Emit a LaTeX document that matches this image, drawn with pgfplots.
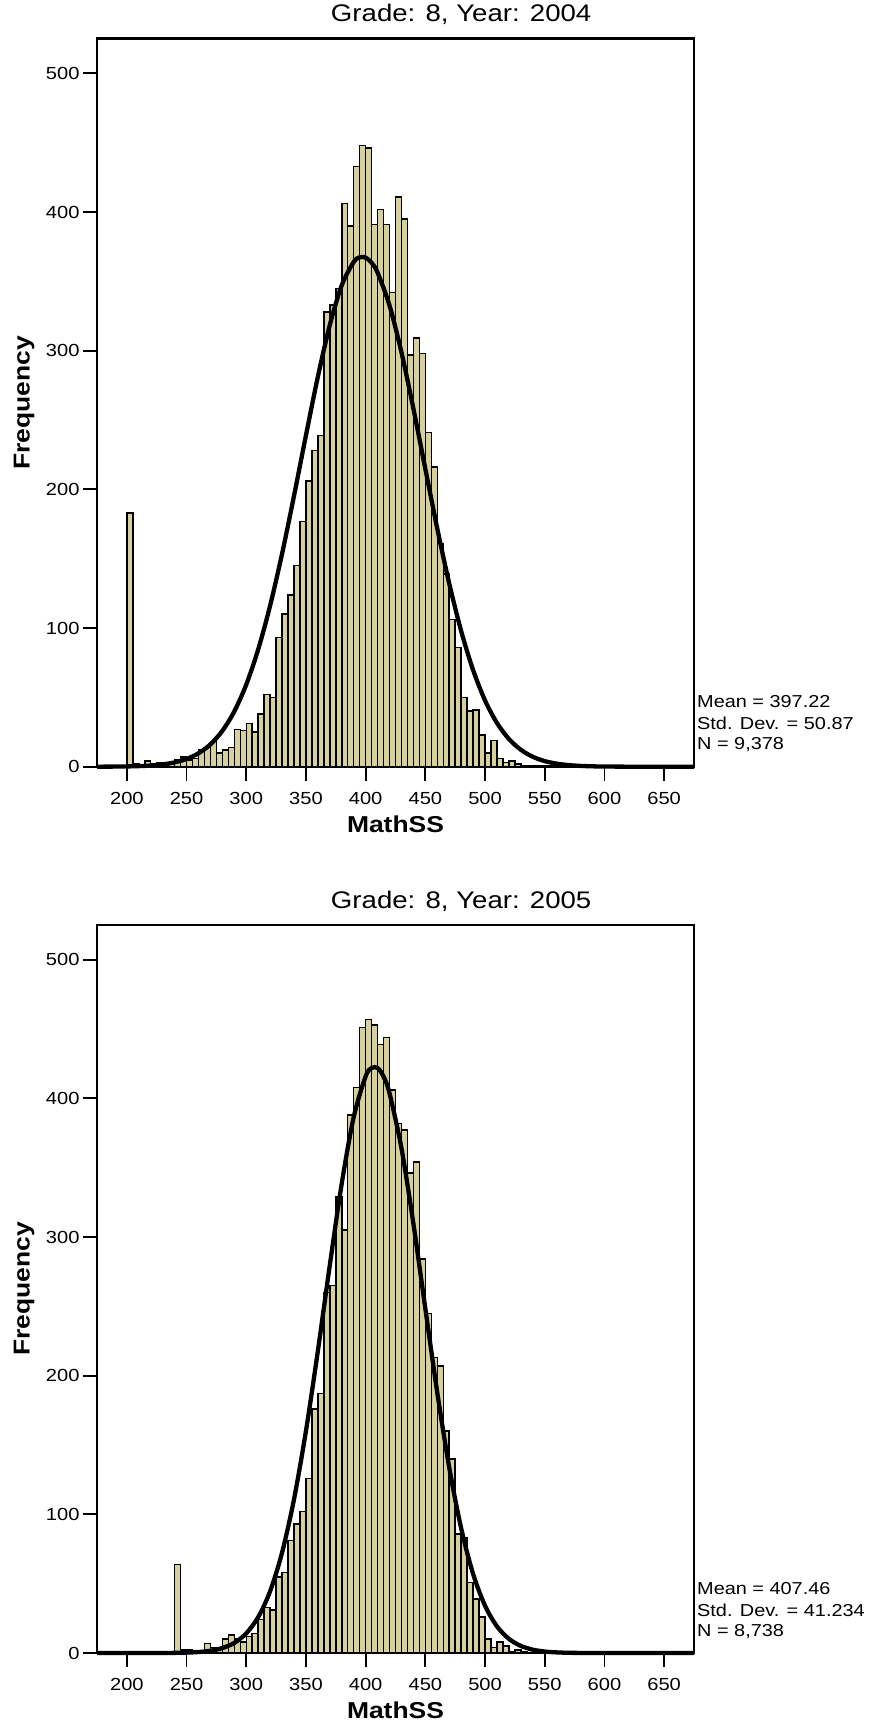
\documentclass[border=0pt]{standalone}
\usepackage{fontspec}
\setmainfont{Liberation Sans}[FakeStretch=1.15]
\usepackage{pgfplots}
\pgfplotsset{compat=1.18}
\definecolor{barfill}{RGB}{214,209,156}

\pgfplotsset{histo/.style={
  scale only axis, width=597pt, height=728pt,
  xmin=175, xmax=675, ymin=0, ymax=525,
  xtick={200,250,...,650}, ytick={0,100,...,500},
  tick align=outside, xtick pos=bottom, ytick pos=left,
  major tick length=14pt,
  tick style={black, line width=1.8pt},
  axis line style={line width=2.5pt},
  /pgf/number format/assume math mode=true,
  ticklabel style={font=\fontsize{17.5}{19}\selectfont},
  xticklabel style={yshift=-8pt},
  xlabel={MathSS}, ylabel={Frequency},
  label style={font=\fontsize{23}{26}\selectfont\bfseries},
  xlabel style={at={(axis description cs:0.5,-0.079)}, anchor=center},
  ylabel style={at={(axis description cs:-0.122,0.5)}, anchor=center},
  title style={at={(axis description cs:0.61,1.0247)}, anchor=center, yshift=0pt, font=\fontsize{24}{26}\selectfont},
  clip=false,
}}
\tikzset{stat/.style={anchor=west, font=\fontsize{17.3}{19}\selectfont, inner sep=0pt}}

\begin{document}
\begin{tikzpicture}
\path (0,0) rectangle (870pt,-1728pt);

% ---------- Panel 1 ----------
\begin{axis}[histo, at={(97pt,-766.7pt)}, anchor=south west, title={Grade: 8, Year: 2004}]
\addplot[ybar interval, fill=barfill, draw=black, line width=1.5pt] coordinates {
(200,183) (205,2) (210,1) (215,4) (220,2) (225,3) (230,3) (235,3) (240,5) (245,7)
(250,5) (255,6) (260,12) (265,14) (270,18) (275,10) (280,12) (285,14) (290,27) (295,26)
(300,31) (305,25) (310,38) (315,52) (320,50) (325,93) (330,110) (335,124) (340,145) (345,177)
(350,206) (355,228) (360,239) (365,328) (370,333) (375,345) (380,406) (385,390) (390,433) (395,448)
(400,446) (405,391) (410,402) (415,391) (420,342) (425,411) (430,395) (435,297) (440,309) (445,298)
(450,241) (455,216) (460,161) (465,139) (470,106) (475,86) (480,50) (485,40) (490,41) (495,23)
(500,10) (505,19) (510,6) (515,3) (520,4) (525,2) (530,1) (535,1) (540,1) (545,1) (550,0)
};
\addplot[smooth, black, line width=4.3pt] coordinates {
(175,0.01) (180,0.04) (190,0.09) (200,0.20) (210,0.42) (220,0.85) (230,1.66) (240,3.10) (250,5.58)
(260,9.67) (270,16.12) (280,25.85) (290,39.88) (300,59.21) (310,84.55) (320,116.17)
(330,153.59) (340,195.3) (350,239.0) (360,281.3) (370,318.6) (380,347.2) (390,364.0)
(395,367.35) (400,367.1) (405,363.4) (410,356.3) (420,332.6) (430,298.8) (440,258.2) (450,214.7)
(460,171.7) (470,132.1) (480,97.8) (490,69.7) (500,47.75) (510,31.49) (520,19.98)
(530,12.19) (540,7.16) (550,4.04) (560,2.20) (570,1.15) (580,0.58) (590,0.28) (600,0.13)
(625,0.01) (650,0) (675,0)
};
\node[stat] at (axis description cs:1.005,0.090) {Mean = 397.22};
\node[stat] at (axis description cs:1.005,0.060) {Std. Dev. = 50.87};
\node[stat] at (axis description cs:1.005,0.030) {N = 9,378};
\end{axis}

% ---------- Panel 2 ----------
\begin{axis}[histo, at={(97pt,-1653pt)}, anchor=south west, title={Grade: 8, Year: 2005}]
\addplot[ybar interval, fill=barfill, draw=black, line width=1.5pt] coordinates {
(240,64) (245,2) (250,2) (255,1) (260,0) (265,7) (270,4) (275,3) (280,10) (285,13)
(290,10) (295,8) (300,12) (305,14) (310,24) (315,33) (320,31) (325,55) (330,58) (335,81)
(340,93) (345,102) (350,126) (355,176) (360,187) (365,260) (370,265) (375,329) (380,305) (385,388)
(390,408) (395,451) (400,457) (405,453) (410,439) (415,444) (420,406) (425,382) (430,377) (435,346)
(440,354) (445,284) (450,245) (455,213) (460,207) (465,160) (470,140) (475,86) (480,83) (485,51)
(490,39) (495,26) (500,10) (505,4) (510,8) (515,5) (520,1) (525,2) (530,1) (535,0)
};
\addplot[smooth, black, line width=4.3pt] coordinates {
(175,0) (200,0) (230,0.02) (240,0.11) (250,0.29) (260,0.71) (270,1.63) (280,3.56)
(290,7.31) (300,14.17) (310,25.88) (320,44.57) (330,72.40) (340,110.87) (350,160.09)
(360,217.96) (370,279.77) (380,338.7) (390,386.5) (400,415.9) (405,421.9) (410,421.9)
(415,415.7) (420,403.6) (430,364.0) (440,309.6) (450,248.3) (460,187.7) (470,133.8)
(480,89.95) (490,57.0) (500,34.07) (510,19.19) (520,10.20) (530,5.11) (540,2.41)
(550,1.07) (560,0.45) (570,0.17) (580,0.07) (600,0.01) (625,0) (675,0)
};
\node[stat] at (axis description cs:1.005,0.089) {Mean = 407.46};
\node[stat] at (axis description cs:1.005,0.059) {Std. Dev. = 41.234};
\node[stat] at (axis description cs:1.005,0.029) {N = 8,738};
\end{axis}
\end{tikzpicture}
\end{document}
